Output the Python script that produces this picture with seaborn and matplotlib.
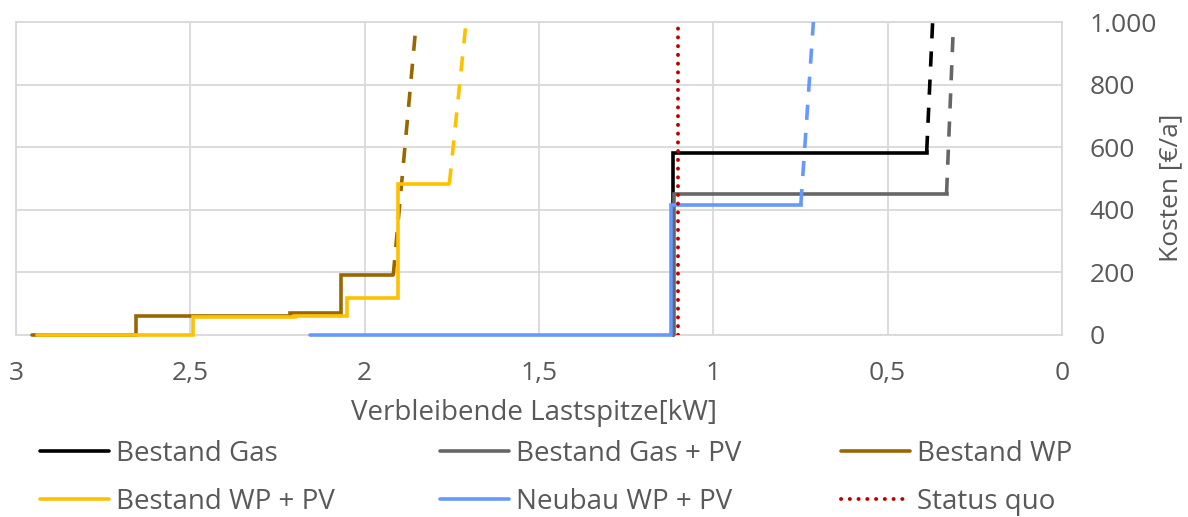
import numpy as np
import pandas as pd
import matplotlib
matplotlib.use("Agg")
import matplotlib.pyplot as plt
from matplotlib.lines import Line2D
import seaborn as sns

# ---------------- data ----------------
x_ticks = [3, 2.5, 2, 1.5, 1, 0.5, 0]
x_tick_labels = ["3", "2,5", "2", "1,5", "1", "0,5", "0"]
y_ticks = [0, 200, 400, 600, 800, 1000]
y_tick_labels = ["0", "200", "400", "600", "800", "1.000"]

# Bestand Gas (step, then dashed rise)
gas_kw = [1.116, 1.116, 0.388]
gas_cost = [0, 580, 588]
gas_dash_kw = [0.388, 0.371]
gas_dash_cost = [588, 1000]

# Bestand Gas + PV
gaspv_kw = [1.114, 1.114, 0.331]
gaspv_cost = [0, 449, 454]
gaspv_dash_kw = [0.331, 0.312]
gaspv_dash_cost = [454, 975]

# Bestand WP
wp_kw = [2.955, 2.656, 2.214, 2.069, 1.918]
wp_cost = [0, 62, 70, 191, 191]
wp_dash_kw = [1.918, 1.854]
wp_dash_cost = [191, 975]

# Bestand WP + PV
wppv_kw = [2.941, 2.492, 2.200, 2.052, 1.905, 1.757]
wppv_cost = [0, 58, 62, 119, 484, 484]
wppv_dash_kw = [1.757, 1.710]
wppv_dash_cost = [484, 990]

# Neubau WP + PV
neu_kw = [2.157, 1.120, 0.749]
neu_cost = [0, 415, 418]
neu_dash_kw = [0.749, 0.713]
neu_dash_cost = [418, 1000]

# Status quo
sq_kw = [1.10, 1.10]
sq_cost = [0, 990]

series_names = ["Bestand Gas", "Bestand Gas + PV", "Bestand WP",
                "Bestand WP + PV", "Neubau WP + PV", "Status quo"]
colors = ["#000000", "#666666", "#996600", "#FFC000", "#6699FF", "#C00000"]

# ---------------- style ----------------
sns.set_theme(style="white")
plt.rcParams["font.family"] = ["Open Sans", "DejaVu Sans"]
txt = "#595959"
grid_c = "#D9D9D9"
FS = 19
FS_LEG = 20
FS_LAB = 20

fig = plt.figure(figsize=(11.88, 5.17), dpi=100)
ax = fig.add_axes([16 / 1188, 1 - 335 / 517, (1062 - 16) / 1188, (335 - 22) / 517])

LW = 2.6
dash = (0, (4.2, 3.6))
DOT_LW = 2.8
DOT = (0, (0.05, 2.2))

steps = [(gas_kw, gas_cost, gas_dash_kw, gas_dash_cost, colors[0]),
         (gaspv_kw, gaspv_cost, gaspv_dash_kw, gaspv_dash_cost, colors[1]),
         (wp_kw, wp_cost, wp_dash_kw, wp_dash_cost, colors[2]),
         (wppv_kw, wppv_cost, wppv_dash_kw, wppv_dash_cost, colors[3]),
         (neu_kw, neu_cost, neu_dash_kw, neu_dash_cost, colors[4])]

for kw, cost, dkw, dcost, c in steps:
    sns.lineplot(x=kw, y=cost, ax=ax, color=c, linewidth=LW, sort=False,
                 estimator=None, drawstyle="steps-post", solid_joinstyle="miter",
                 zorder=3, clip_on=False)
    sns.lineplot(x=dkw, y=dcost, ax=ax, color=c, linewidth=LW, sort=False,
                 estimator=None, linestyle=dash, dash_capstyle="butt", zorder=3)

sns.lineplot(x=sq_kw, y=sq_cost, ax=ax, color=colors[5], linewidth=DOT_LW, sort=False,
             estimator=None, linestyle=DOT, dash_capstyle="round", zorder=4)

if ax.get_legend() is not None:
    ax.get_legend().remove()

ax.set_xlim(3, 0)
ax.set_ylim(0, 1000)
ax.set_xticks(x_ticks)
ax.set_xticklabels(x_tick_labels)
ax.set_yticks(y_ticks)
ax.set_yticklabels(y_tick_labels)
ax.yaxis.tick_right()
ax.yaxis.set_label_position("right")
ax.tick_params(axis="both", length=0, labelsize=FS, labelcolor=txt)
ax.tick_params(axis="x", pad=19)
ax.tick_params(axis="y", pad=20)
ax.grid(True, color=grid_c, linewidth=1.3)
ax.set_axisbelow(True)
for s in ax.spines.values():
    s.set_visible(True)
    s.set_color(grid_c)
    s.set_linewidth(1.3)

ax.set_xlabel("Verbleibende Lastspitze[kW]", fontsize=FS_LAB, color=txt)
ax.xaxis.set_label_coords(0.495, -0.205)
ax.set_ylabel("Kosten [€/a]", fontsize=FS, color=txt)
ax.yaxis.set_label_coords(1.092, 0.47)

# legends: three columns
handles = [Line2D([], [], color=colors[i], linewidth=LW, solid_capstyle="round") for i in range(5)]
handles.append(Line2D([], [], color=colors[5], linewidth=DOT_LW,
                      linestyle=DOT, dash_capstyle="round"))
cols = [[0, 3], [1, 4], [2, 5]]
xs = [40, 440, 841]
for xc, idx in zip(xs, cols):
    leg = fig.legend([handles[i] for i in idx], [series_names[i] for i in idx],
                     loc="upper left", bbox_to_anchor=(xc / 1188, 1 - 440 / 517),
                     frameon=False, fontsize=FS_LEG, handlelength=2.5,
                     handletextpad=0.25, labelspacing=0.72, borderaxespad=0,
                     borderpad=0)
    for t in leg.get_texts():
        t.set_color(txt)

fig.savefig("out.png", dpi=100)
